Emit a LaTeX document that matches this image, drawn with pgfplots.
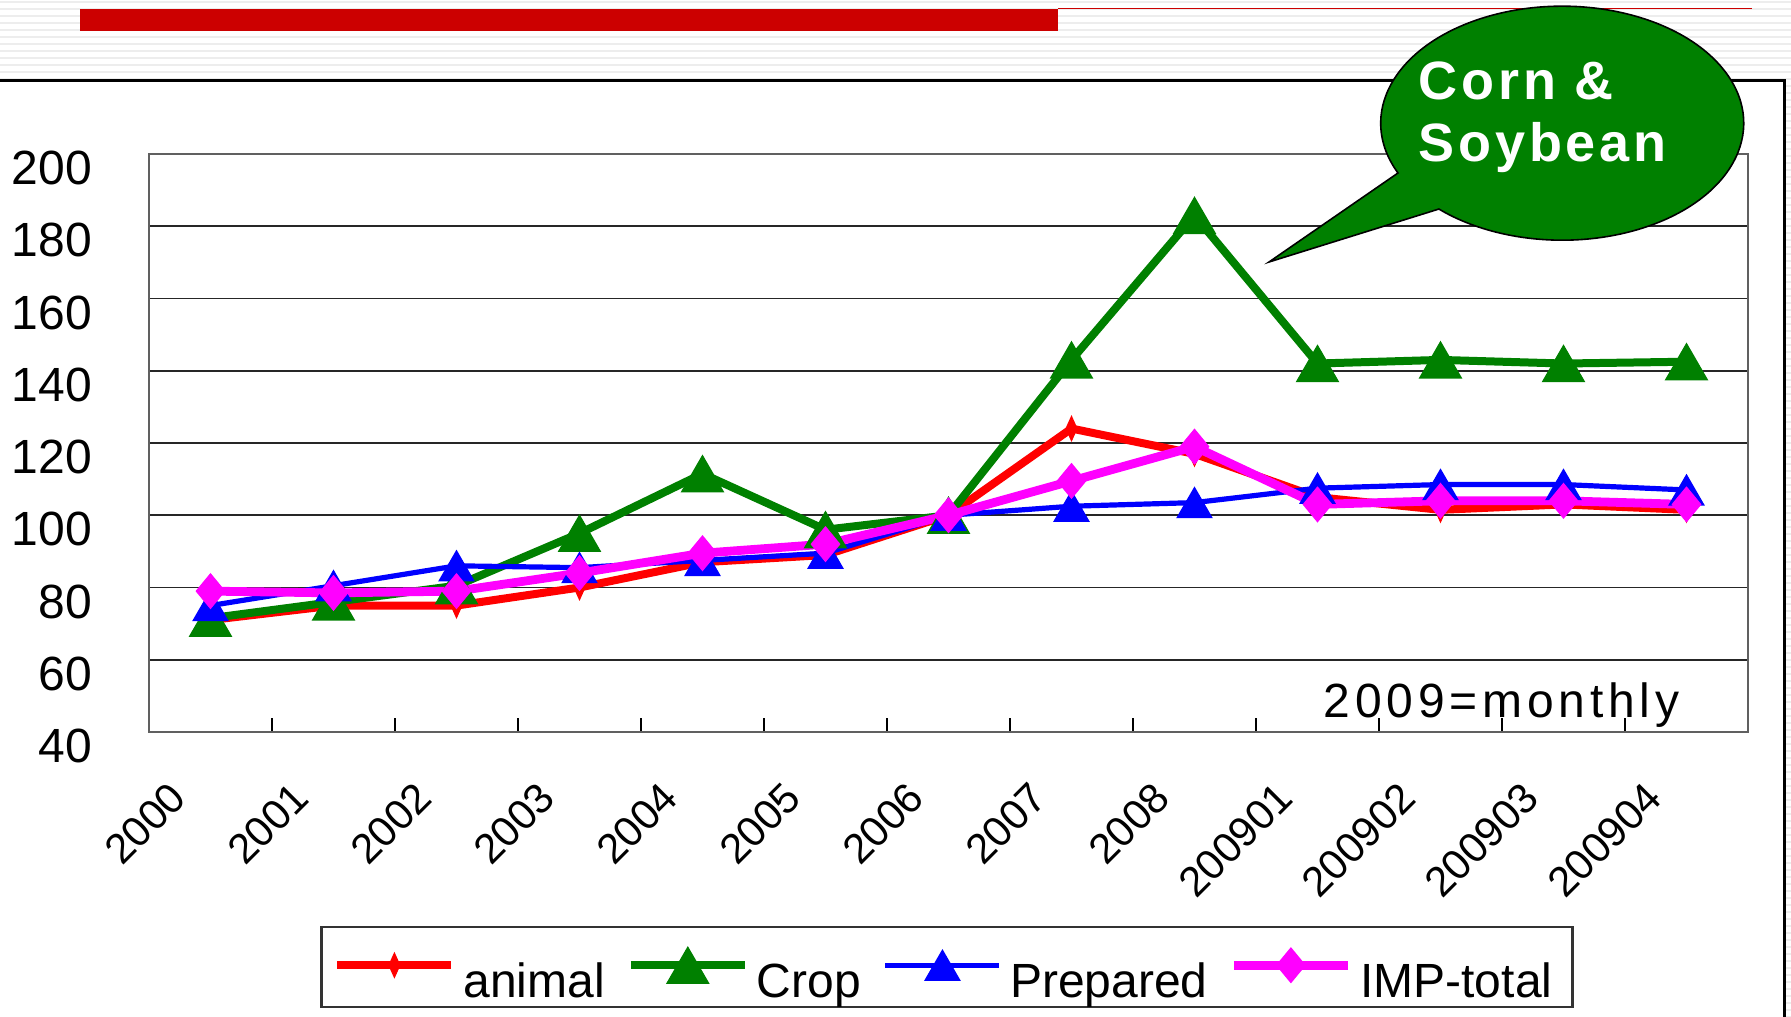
\documentclass[border=0pt]{standalone}
\usepackage{fontspec}
\setmainfont{Liberation Sans}
\usepackage{pgfplots}
\pgfplotsset{compat=1.18}

\definecolor{xlgreen}{RGB}{0,128,0}
\definecolor{xlred}{RGB}{255,0,0}
\definecolor{xlblue}{RGB}{0,0,255}
\definecolor{xlmagenta}{RGB}{255,0,255}
\definecolor{barred}{RGB}{204,0,0}
\newcommand{\fs}[1]{\fontsize{#1}{#1}\selectfont}

\begin{document}
\begin{tikzpicture}
\useasboundingbox (0,0) rectangle (447.75pt,-254.25pt);

% slide background, in pixel units of the reference
\begin{scope}[x=0.25pt,y=-0.25pt]
  \foreach \yy in {2,9,...,1017} {\draw[gray!14, line width=0.65pt] (0,\yy) -- (1791,\yy);}
  \filldraw[fill=white, draw=black, line width=0.75pt] (-20,80) rectangle (1784,1100);
  \fill[barred] (80,9) rectangle (1058,31);
  \draw[barred, line width=0.4pt] (1058,8.5) -- (1752,8.5);
\end{scope}

\begin{axis}[
  at={(37.25pt,-183pt)}, anchor=south west,
  scale only axis, width=399.75pt, height=144.5pt,
  xmin=-0.5, xmax=12.5, ymin=40, ymax=200,
  ytick={40,60,...,200},
  xtick={0,...,12},
  xticklabels={2000,2001,2002,2003,2004,2005,2006,2007,2008,200901,200902,200903,200904},
  minor xtick={0.5,1.5,...,11.5},
  major tick length=0pt, minor tick length=3.5pt,
  tick align=inside, xtick pos=bottom, ytick pos=left,
  minor tick style={black, line width=0.4pt},
  ymajorgrids, major grid style={black!85, line width=0.4pt},
  axis line style={draw=gray!75!black, line width=0.7pt},
  /pgf/number format/assume math mode=true,
  yticklabel style={font=\fs{12}, anchor=east, xshift=-10.75pt, yshift=-3.5pt},
  xticklabel style={font=\fs{10.5}, anchor=north east, xshift=-10.7pt, yshift=-7pt, rotate=45},
  legend columns=4,
  legend style={
    at={(0.499,-0.407)}, anchor=center,
    draw=black!80, line width=0.6pt,
    inner xsep=3pt, inner ysep=2.5pt,
    font=\fs{12},
    cells={anchor=base west},
    nodes={inner xsep=2pt, inner ysep=0pt, text height=15pt, text depth=0pt},
    /tikz/column sep=0pt,
    /tikz/every even column/.append style={column sep=3.5pt},
  },
  legend image code/.code={\draw[mark repeat=2,mark phase=2] plot coordinates {(0pt,8pt)(14.25pt,8pt)(28.5pt,8pt)};},
]

% animal
\addplot[xlred, line width=2pt, mark=diamond*, mark size=3pt,
  mark options={xscale=0.6, line width=0.3pt}] coordinates {
  (0,71) (1,75) (2,75) (3,80) (4,87) (5,89) (6,100)
  (7,124) (8,117) (9,105) (10,101.5) (11,103) (12,101.5)
};
\addlegendentry{animal}

% Crop
\addplot[xlgreen, line width=2pt, mark=triangle*, mark size=6pt,
  mark options={line width=0.3pt, yshift=-1.5pt}] coordinates {
  (0,71.5) (1,76) (2,80.5) (3,95) (4,111.5) (5,96) (6,100)
  (7,143) (8,183) (9,142) (10,143) (11,142) (12,142.5)
};
\addlegendentry{Crop}

% Prepared
\addplot[xlblue, line width=1.3pt, mark=triangle*, mark size=5pt,
  mark options={line width=0.3pt, yshift=-1.25pt}] coordinates {
  (0,75) (1,80.5) (2,86) (3,85.5) (4,87.5) (5,89.5) (6,100)
  (7,102.5) (8,103.5) (9,107.5) (10,108.5) (11,108.5) (12,107)
};
\addlegendentry{Prepared}

% IMP-total
\addplot[xlmagenta, line width=2.2pt, mark=diamond*, mark size=4.3pt,
  mark options={xscale=1.1, line width=0.3pt}] coordinates {
  (0,79) (1,78.5) (2,79) (3,84) (4,89.5) (5,92) (6,100)
  (7,109.5) (8,119) (9,103) (10,104) (11,104) (12,103)
};
\addlegendentry{IMP-total}

\end{axis}

% callout
\filldraw[fill=xlgreen, draw=black, line width=0.4pt]
  (317.25pt,-65.5pt) -- (349.5pt,-43.25pt)
  arc[start angle=205.2, end angle=-132.8, x radius=45.375pt, y radius=29.25pt] -- cycle;
\node[anchor=base west, inner sep=0pt, text=white, font=\fs{13.5}\bfseries\addfontfeatures{LetterSpace=7}]
  at (354.5pt,-24.75pt) {Corn \&};
\node[anchor=base west, inner sep=0pt, text=white, font=\fs{13.5}\bfseries\addfontfeatures{LetterSpace=7}]
  at (354.5pt,-40.25pt) {Soybean};

\node[anchor=base west, inner sep=0pt, font=\fs{12}\addfontfeatures{LetterSpace=10}]
  at (330.75pt,-179.25pt) {2009=monthly};
\end{tikzpicture}
\end{document}
